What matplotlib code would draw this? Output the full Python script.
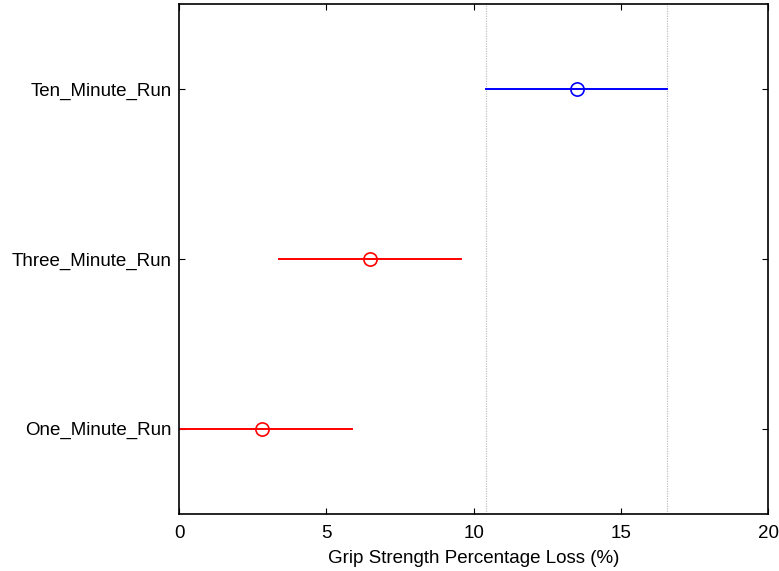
import matplotlib
matplotlib.use("Agg")
import matplotlib.pyplot as plt

# Group means and comparison intervals for grip strength loss
groups = ["One_Minute_Run", "Three_Minute_Run", "Ten_Minute_Run"]
means = [2.81, 6.49, 13.49]
lower = [-0.26, 3.40, 10.42]
upper = [5.88, 9.58, 16.56]
colors = ["red", "red", "blue"]
highlight = 2  # index of the selected group whose interval is marked

xticks = [0, 5, 10, 15, 20]
xlabel = "Grip Strength Percentage Loss (%)"

plt.rcParams["font.family"] = ["Liberation Sans", "DejaVu Sans"]

fig = plt.figure(figsize=(7.79, 5.71), dpi=100)
ax = fig.add_axes([0.2298, 0.1007, 0.9865 - 0.2298, 0.9923 - 0.1007])

ypos = list(range(1, len(groups) + 1))

# dotted reference lines at the selected group's interval bounds
for xv in (lower[highlight], upper[highlight]):
    ax.axvline(xv, color="#c0c0c0", linestyle=(0, (1, 1)), linewidth=0.9, zorder=1)

for y, m, lo, hi, c in zip(ypos, means, lower, upper, colors):
    ax.plot([lo, hi], [y, y], color=c, linewidth=1.4, zorder=2)
    ax.plot([m], [y], marker="o", markersize=9.5, markerfacecolor="none",
            markeredgecolor=c, markeredgewidth=1.2, linestyle="none", zorder=3)

ax.set_xlim(0, 20)
ax.set_ylim(0.5, len(groups) + 0.5)
ax.set_xticks(xticks)
ax.set_xticklabels([str(t) for t in xticks])
ax.set_yticks(ypos)
ax.set_yticklabels(groups)
ax.set_xlabel(xlabel, fontsize=13.5, labelpad=6)

ax.tick_params(direction="in", top=True, right=True, length=4, width=0.8,
               labelsize=13.5, color="black")
ax.tick_params(axis="x", pad=8)
ax.tick_params(axis="y", pad=5)
for sp in ax.spines.values():
    sp.set_linewidth(1.2)
    sp.set_color("black")

fig.savefig("out.png", dpi=100)
